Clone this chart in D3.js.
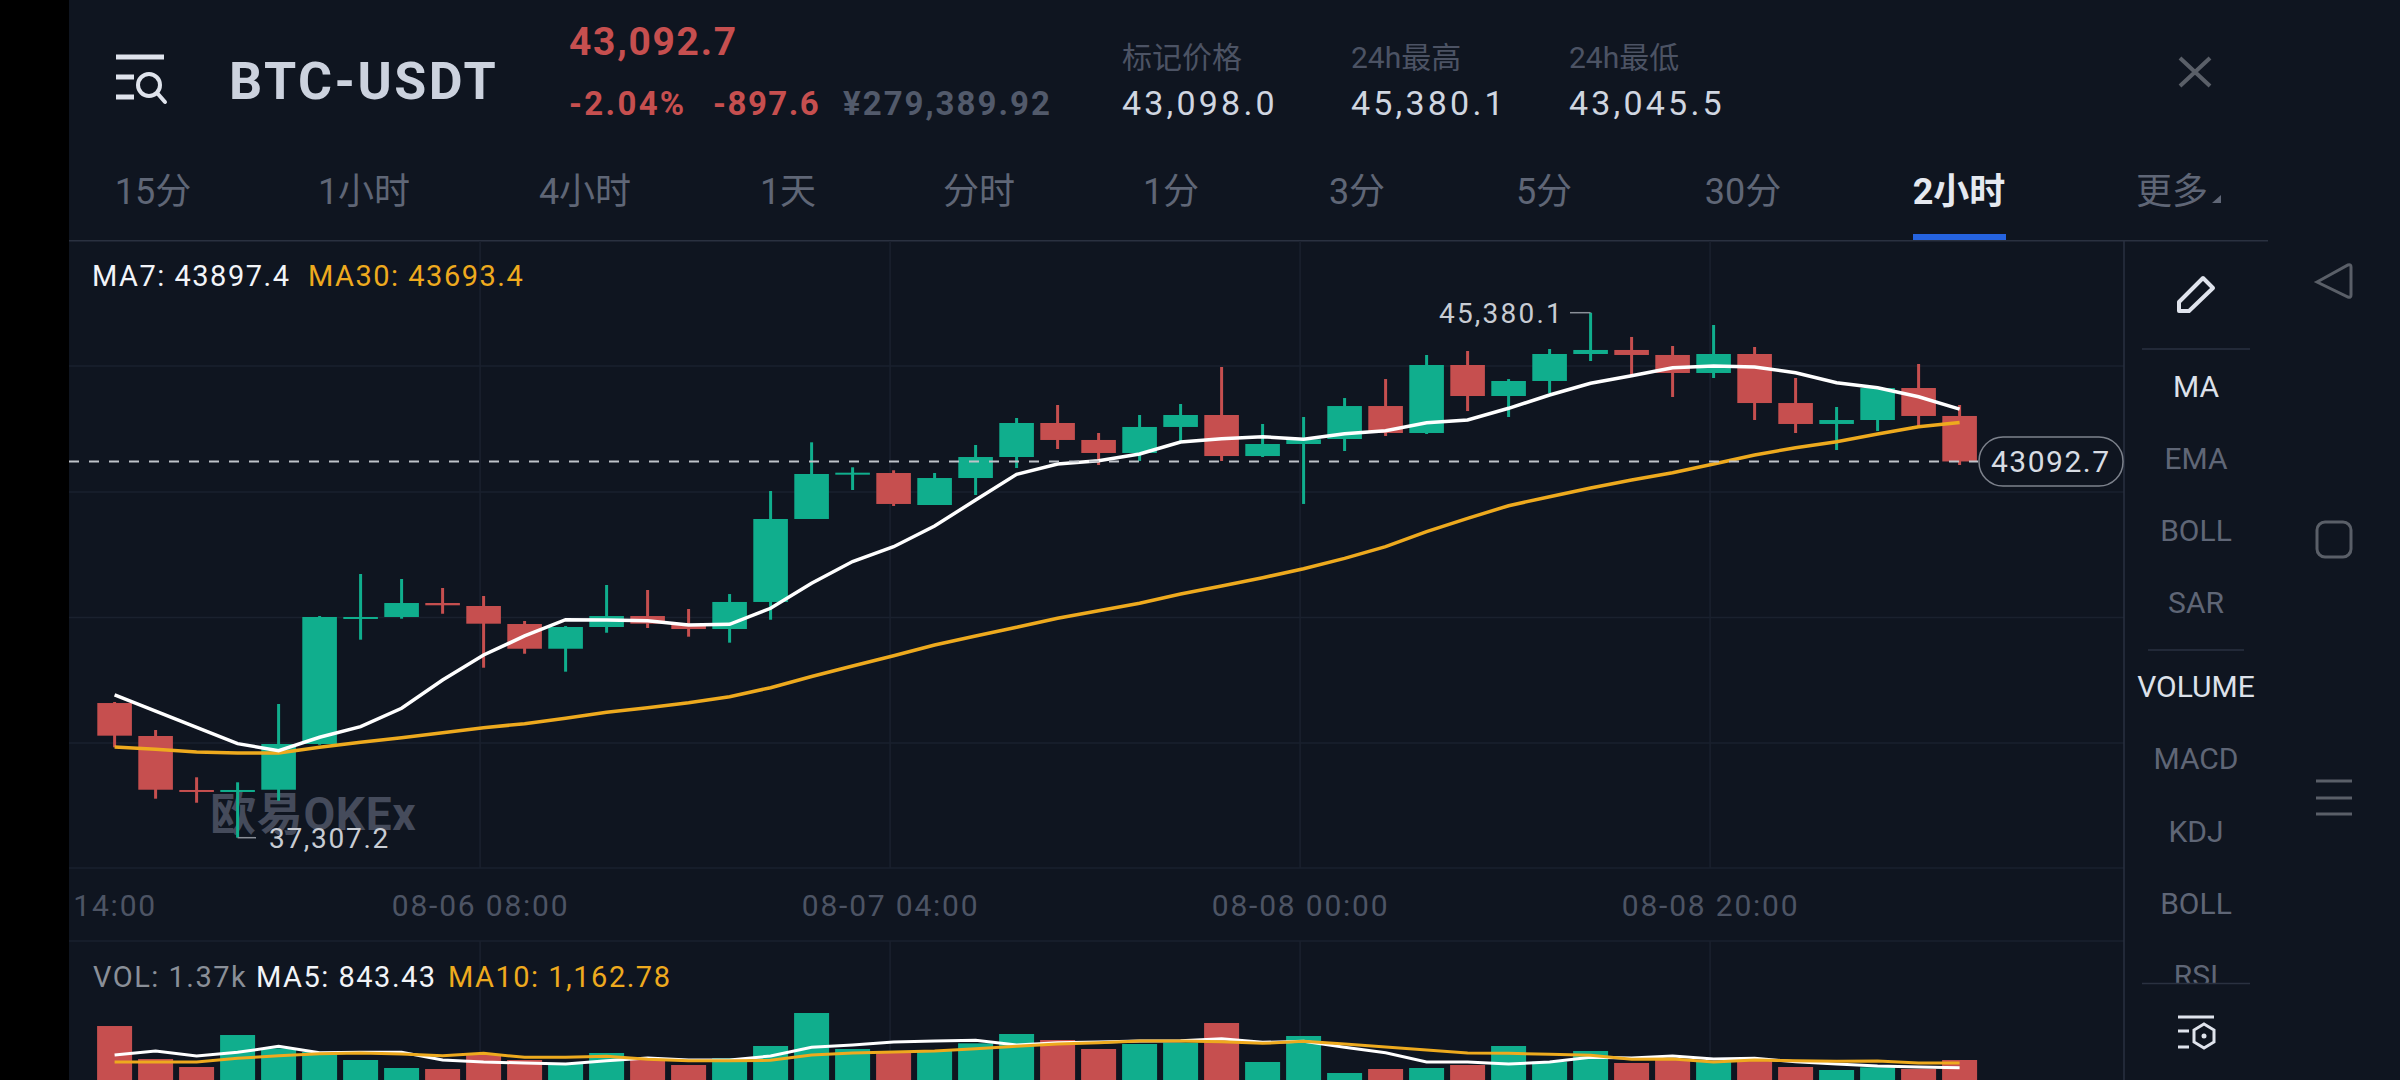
<!DOCTYPE html>
<html>
<head>
<meta charset="utf-8">
<script src="https://cdn.jsdelivr.net/npm/d3@7"></script>
<style>
html, body { margin: 0; padding: 0; background: #0f1520; }
svg { display: block; }
text { font-family: Roboto, "Noto Sans CJK SC", sans-serif; }
</style>
</head>
<body>
<script>
// candles, 2h each, first one is 08-05 14:00
const opens = [39378,38871,38041,38021,38045,38748,40690,40701,40916,40870,40593,40213,40547,40716,40593,40516,40932,42208,42904,42915,42423,42838,43161,43684,43423,43223,43623,43807,43176,43361,43438,43945,43530,44576,44099,44330,44745,44807,44730,44453,44745,43991,43669,43730,44222,43792];
const closes = [38876,38045,38021,38041,38748,40701,40701,40916,40881,40598,40213,40547,40716,40598,40516,40932,42208,42900,42920,42439,42838,43161,43684,43423,43223,43623,43807,43176,43361,43433,43945,43530,44576,44099,44330,44745,44807,44730,44453,44745,43991,43669,43730,44222,43792,43092.7];
const highs = [39394,38963,38236,38159,39363,40716,41362,41285,41147,41024,40639,40562,41193,41116,40824,41054,42638,43387,43003,42957,42915,43346,43761,43961,43530,43807,43976,44545,43669,43776,44068,44360,44730,44791,44360,44822,45380.1,45007,44868,45191,44853,44376,43930,44222,44591,43961];
const lows = [38697,37907,37845,37307.2,37876,38737,40352,40675,40751,39921,40136,39860,40459,40532,40398,40306,40659,42208,42654,42408,42423,42577,42992,43284,43038,43100,43407,43100,43161,42439,43253,43484,43515,43868,43776,44145,44637,44422,44084,44376,43730,43530,43269,43561,43638,43038];
const ma7 = [39502,39255,39005,38753,38645,38851,39014,39297,39732,40116,40409,40659,40655,40644,40578,40589,40835,41219,41554,41782,42100,42500,42895,43053,43104,43207,43392,43443,43473,43433,43520,43566,43689,43730,43910,44115,44295,44412,44535,44561,44545,44457,44304,44227,44088,43897.4];
const ma30 = [38702,38666,38625,38610,38610,38697,38774,38845,38922,38999,39060,39143,39235,39306,39383,39475,39614,39786,39947,40106,40270,40409,40543,40681,40798,40912,41054,41178,41305,41443,41603,41782,42013,42218,42412,42551,42685,42808,42920,43053,43192,43304,43397,43515,43627,43693.4];
const volumes = [3698,1438,890,3082,2169,1918,1370,822,753,1712,1370,1096,1849,1484,1027,1484,2329,4589,2123,1941,2055,2511,3151,2740,2123,2466,2557,3904,1233,3014,479,753,822,1027,2329,1256,1986,1164,1370,1256,1370,890,685,868,753,1370];
const volMa5 = [1712,1986,1644,1895,2306,1872,1895,1895,1370,1233,1164,1096,1324,1507,1370,1370,1644,2237,2397,2603,2671,2717,2397,2557,2603,2671,2694,2831,2580,2648,2237,1872,1233,1233,1096,1233,1552,1507,1644,1438,1484,1256,1096,959,890,843.43];
const volMa10 = [1233,1233,1233,1484,1667,1804,1849,1781,1667,1826,1552,1552,1621,1415,1324,1324,1347,1712,1849,1918,1986,2146,2306,2466,2557,2671,2671,2625,2511,2648,2466,2260,2055,1849,1826,1758,1689,1415,1438,1233,1370,1324,1278,1301,1164,1162.78];
const gridPrices = [44561,42623,40693,38763,36841];
const timeTicks = [0,9,19,29,39];
const timeLabels = ["14:00","08-06 08:00","08-07 04:00","08-08 00:00","08-08 20:00"];
const gridTicks = [9,19,29,39];
const tabs = ["15分","1小时","4小时","1天","分时","1分","3分","5分","30分","2小时","更多"];
const tabCenters = [153,364,585,788,979,1171,1357,1544,1743,1959,2172];
const mainTools = ["MA","EMA","BOLL","SAR"];
const subTools = ["VOLUME","MACD","KDJ","BOLL","RSI"];

const green = "#10ae8d";
const red = "#c64f4f";
const yellow = "#eeaa1e";
const n = closes.length;

const svg = d3.select("body").append("svg").attr("width", 2400).attr("height", 1080);
svg.append("rect").attr("width", 2400).attr("height", 1080).attr("fill", "#0f1520");
svg.append("rect").attr("width", 69).attr("height", 1080).attr("fill", "#000");

const x = d3.scaleLinear().domain([0, n - 1]).range([114.6, 1959.6]);
const y = d3.scaleLinear().domain([37307.2, 45380.1]).range([837.7, 312.7]);
const yVol = d3.scaleLinear().domain([0, 1370]).range([1080, 1060]);

function label(txt, px, py, size, fill, opts) {
    opts = opts || {};
    return svg.append("text")
        .attr("x", px).attr("y", py)
        .attr("text-anchor", opts.anchor || "start")
        .attr("font-size", size)
        .attr("font-weight", opts.weight || 400)
        .attr("letter-spacing", opts.spacing || 0)
        .attr("fill", fill)
        .text(txt);
}

// header
label("BTC-USDT", 229, 99, 52, "#ccd2de", { weight: 700, spacing: 2.5 });
label("43,092.7", 569, 55, 39, red, { weight: 700, spacing: 1.7 });
label("-2.04%", 569, 115, 33, red, { weight: 700, spacing: 2.3 });
label("-897.6", 713, 115, 33, red, { weight: 700, spacing: 1.5 });
label("¥279,389.92", 843, 115, 33, "#525a6b", { weight: 700, spacing: 2 });
label("标记价格", 1122, 68, 30, "#4c5364");
label("24h最高", 1351, 68, 30, "#4c5364");
label("24h最低", 1569, 68, 30, "#4c5364");
label("43,098.0", 1122, 115, 34, "#d0d6e0", { spacing: 3.2 });
label("45,380.1", 1351, 115, 34, "#d0d6e0", { spacing: 3.2 });
label("43,045.5", 1569, 115, 34, "#d0d6e0", { spacing: 3.2 });

// menu icon
svg.append("path")
    .attr("d", "M116 57H164M116 77H134M116 97H134")
    .attr("stroke", "#dfe3ec").attr("stroke-width", 5).attr("fill", "none");
svg.append("circle").attr("cx", 149).attr("cy", 85).attr("r", 11)
    .attr("stroke", "#dfe3ec").attr("stroke-width", 4).attr("fill", "none");
svg.append("path").attr("d", "M158 94L165 102")
    .attr("stroke", "#dfe3ec").attr("stroke-width", 4).attr("stroke-linecap", "round");

// close
svg.append("path").attr("d", "M2180 58L2210 86M2210 58L2180 86")
    .attr("stroke", "#5a5f68").attr("stroke-width", 4).attr("fill", "none");

// tabs
tabs.forEach(function (t, i) {
    const active = t === "2小时";
    label(t, tabCenters[i], 204, 36, active ? "#e5e9f0" : "#5f6676", { anchor: "middle", weight: active ? 700 : 400 });
});
svg.append("path").attr("d", "M2212 203H2221V195Z").attr("fill", "#5f6676");
svg.append("rect").attr("x", 1913).attr("y", 234).attr("width", 93).attr("height", 6).attr("fill", "#2563e0");
svg.append("rect").attr("x", 69).attr("y", 240).attr("width", 2199).attr("height", 1.5).attr("fill", "#2a3140");

// grid
svg.selectAll(".hgrid").data(gridPrices).enter().append("line")
    .attr("x1", 69).attr("x2", 2124)
    .attr("y1", d => y(d)).attr("y2", d => y(d))
    .attr("stroke", "#1a212e").attr("stroke-width", 1.5);
[[241, 868], [941, 1080]].forEach(function (span) {
    svg.selectAll(".vgrid").data(gridTicks, d => d + "-" + span[0]).enter().append("line")
        .attr("x1", d => x(d) - 3.5).attr("x2", d => x(d) - 3.5)
        .attr("y1", span[0]).attr("y2", span[1])
        .attr("stroke", "#1a212e").attr("stroke-width", 1.5);
});
svg.append("line").attr("x1", 69).attr("x2", 2124).attr("y1", 941).attr("y2", 941)
    .attr("stroke", "#1a212e").attr("stroke-width", 1.5);
svg.append("line").attr("x1", 2124).attr("x2", 2124).attr("y1", 241).attr("y2", 1080)
    .attr("stroke", "#2a3140").attr("stroke-width", 1.5);

// legends
label("MA7: 43897.4", 92, 286, 29, "#f2f4f8", { spacing: 1.5 });
label("MA30: 43693.4", 308, 286, 29, yellow, { spacing: 1.5 });
label("VOL: 1.37k", 93, 987, 29, "#8a8f98", { spacing: 1.5 });
label("MA5: 843.43", 256, 987, 29, "#f2f4f8", { spacing: 1.5 });
label("MA10: 1,162.78", 448, 987, 29, yellow, { spacing: 1.5 });

// time axis
const axis = d3.axisBottom(x).tickValues(timeTicks)
    .tickFormat((d, i) => timeLabels[i]).tickSize(0).tickPadding(0);
const axisG = svg.append("g").attr("transform", "translate(0,882)").call(axis);
axisG.select(".domain").remove();
axisG.selectAll("text")
    .attr("x", (d, i) => i ? -3.5 : 0)
    .attr("y", 34).attr("dy", 0)
    .attr("font-size", 30).attr("letter-spacing", 1.8)
    .attr("fill", "#4d5464")
    .attr("font-family", "Roboto, sans-serif");

// watermark sits under the candles
label("欧易OKEx", 210, 830, 46, "#454b5b", { weight: 700, spacing: 0.7 });

// candles
const candle = svg.selectAll(".candle").data(d3.range(n)).enter().append("g").attr("class", "candle");
const candleColor = i => closes[i] >= opens[i] ? green : red;
candle.append("line")
    .attr("x1", i => x(i)).attr("x2", i => x(i))
    .attr("y1", i => y(highs[i])).attr("y2", i => y(lows[i]))
    .attr("stroke", candleColor).attr("stroke-width", 3);
candle.append("rect")
    .attr("x", i => x(i) - 17.3).attr("width", 34.6)
    .attr("y", i => y(Math.max(opens[i], closes[i])))
    .attr("height", i => Math.max(2, Math.abs(y(opens[i]) - y(closes[i]))))
    .attr("fill", candleColor);

// moving averages
const priceLine = d3.line().x((d, i) => x(i)).y(d => y(d));
svg.append("path").attr("d", priceLine(ma30)).attr("fill", "none").attr("stroke", yellow).attr("stroke-width", 3.5);
svg.append("path").attr("d", priceLine(ma7)).attr("fill", "none").attr("stroke", "#fff").attr("stroke-width", 3.5);

// last price
svg.append("line").attr("x1", 69).attr("x2", 1978)
    .attr("y1", y(43092.7)).attr("y2", y(43092.7))
    .attr("stroke", "#bfc3c9").attr("stroke-width", 2).attr("stroke-dasharray", "10 10");
svg.append("rect").attr("x", 1979).attr("y", 437).attr("width", 144).attr("height", 49).attr("rx", 24)
    .attr("fill", "#0f1520").attr("stroke", "#7d828c").attr("stroke-width", 1.5);
label("43092.7", 1991, 472, 30, "#d8dce3", { spacing: 1.5 });

// high / low marks
label("45,380.1", 1439, 323, 28, "#c8ccd3", { spacing: 2.2 });
svg.append("line").attr("x1", 1570).attr("x2", x(36)).attr("y1", y(45380.1)).attr("y2", y(45380.1))
    .attr("stroke", "#8a8f98").attr("stroke-width", 1.5);
label("37,307.2", 269, 848, 28, "#c8ccd3", { spacing: 1.7 });
svg.append("line").attr("x1", x(3)).attr("x2", 256).attr("y1", y(37307.2)).attr("y2", y(37307.2))
    .attr("stroke", "#8a8f98").attr("stroke-width", 1.5);

// volume
svg.selectAll(".vol").data(d3.range(n)).enter().append("rect").attr("class", "vol")
    .attr("x", i => x(i) - 17.5).attr("width", 35)
    .attr("y", i => yVol(volumes[i]))
    .attr("height", i => yVol(0) - yVol(volumes[i]))
    .attr("fill", candleColor);
const volLine = d3.line().x((d, i) => x(i)).y(d => yVol(d));
svg.append("path").attr("d", volLine(volMa5)).attr("fill", "none").attr("stroke", "#fff").attr("stroke-width", 3);
svg.append("path").attr("d", volLine(volMa10)).attr("fill", "none").attr("stroke", yellow).attr("stroke-width", 3);

// side panel
svg.append("path")
    .attr("d", "M2179 311V302L2203 278L2213 288L2189 311Z")
    .attr("fill", "none").attr("stroke", "#dfe3ec").attr("stroke-width", 4).attr("stroke-linejoin", "round");
svg.append("line").attr("x1", 2142).attr("x2", 2250).attr("y1", 349).attr("y2", 349).attr("stroke", "#2a3140").attr("stroke-width", 1.5);
svg.append("line").attr("x1", 2148).attr("x2", 2244).attr("y1", 650).attr("y2", 650).attr("stroke", "#2a3140").attr("stroke-width", 1.5);
const mainY = [397, 469, 541, 613];
const subY = [697, 769, 842, 914, 986];
mainTools.forEach(function (t, i) {
    label(t, 2196, mainY[i], 30, i === 0 ? "#dde1ea" : "#5f6676", { anchor: "middle" });
});
subTools.forEach(function (t, i) {
    label(t, 2196, subY[i], 30, i === 0 ? "#dde1ea" : "#5f6676", { anchor: "middle" });
});
// RSI is cut off by the footer of the panel
svg.append("rect").attr("x", 2126).attr("y", 984).attr("width", 140).attr("height", 96).attr("fill", "#0f1520");
svg.append("line").attr("x1", 2142).attr("x2", 2250).attr("y1", 983.5).attr("y2", 983.5).attr("stroke", "#2a3140").attr("stroke-width", 1.5);
svg.append("path").attr("d", "M2178 1017H2214M2178 1031H2189M2178 1047H2189")
    .attr("stroke", "#dfe3ec").attr("stroke-width", 3).attr("fill", "none");
svg.append("path").attr("d", "M2204 1024L2214 1030V1042L2204 1048L2194 1042V1030Z")
    .attr("stroke", "#dfe3ec").attr("stroke-width", 3).attr("fill", "none");
svg.append("circle").attr("cx", 2204).attr("cy", 1036).attr("r", 2.5).attr("fill", "#dfe3ec");

// android nav keys
svg.append("path").attr("d", "M2317 282L2348 265Q2351 264 2351 267V295Q2351 298 2348 297Z")
    .attr("fill", "none").attr("stroke", "#5a5f68").attr("stroke-width", 3);
svg.append("rect").attr("x", 2317).attr("y", 522).attr("width", 34).attr("height", 35).attr("rx", 8)
    .attr("fill", "none").attr("stroke", "#5a5f68").attr("stroke-width", 3);
svg.append("path").attr("d", "M2316 781H2352M2316 798H2352M2316 814H2352")
    .attr("stroke", "#5a5f68").attr("stroke-width", 3);
</script>
</body>
</html>
